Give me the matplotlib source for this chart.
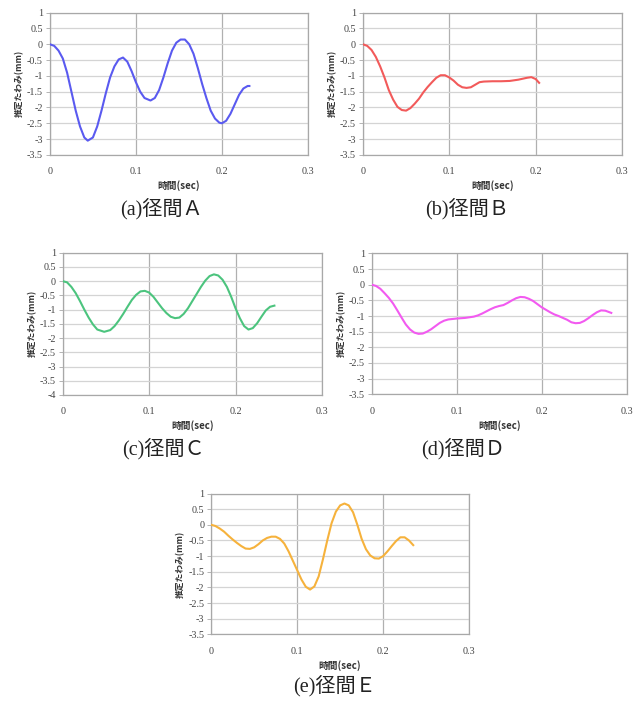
"""
径間A〜Eの推定たわみ時刻歴 (5枚組)
"""
import matplotlib
matplotlib.use("Agg")
import matplotlib.pyplot as plt

plt.rcParams['font.family'] = ['Liberation Serif', 'Noto Sans CJK JP']

# --- 径間A ---
t_a = [0, 0.005, 0.01, 0.015, 0.02, 0.025, 0.03, 0.035, 0.04, 0.044, 0.05, 0.055, 0.06,
       0.065, 0.07, 0.075, 0.08, 0.085, 0.09, 0.095, 0.1, 0.105, 0.11, 0.117, 0.122, 0.127,
       0.132, 0.137, 0.142, 0.147, 0.152, 0.157, 0.162, 0.167, 0.172, 0.177, 0.182, 0.187,
       0.192, 0.197, 0.2, 0.205, 0.21, 0.215, 0.22, 0.225, 0.23, 0.232]
d_a = [0, -0.05, -0.2, -0.45, -0.9, -1.5, -2.1, -2.6, -2.95, -3.05, -2.95, -2.6, -2.1,
       -1.55, -1.05, -0.7, -0.48, -0.42, -0.55, -0.85, -1.2, -1.5, -1.7, -1.78, -1.7, -1.45,
       -1.05, -0.6, -0.2, 0.05, 0.15, 0.15, 0.0, -0.3, -0.75, -1.25, -1.7, -2.1,
       -2.35, -2.48, -2.5, -2.42, -2.2, -1.9, -1.6, -1.4, -1.32, -1.32]

# --- 径間B ---
t_b = [0, 0.005, 0.01, 0.015, 0.02, 0.025, 0.03, 0.035, 0.04, 0.045, 0.05, 0.055, 0.06,
       0.065, 0.07, 0.075, 0.08, 0.085, 0.09, 0.095, 0.1, 0.105, 0.11, 0.115, 0.12, 0.125,
       0.13, 0.135, 0.14, 0.15, 0.16, 0.17, 0.18, 0.19, 0.195, 0.2, 0.204]
d_b = [0, -0.05, -0.18, -0.4, -0.7, -1.05, -1.45, -1.75, -1.98, -2.08, -2.1, -2.02, -1.88,
       -1.72, -1.52, -1.35, -1.2, -1.06, -0.98, -0.98, -1.05, -1.15, -1.28, -1.36, -1.38, -1.36,
       -1.28, -1.2, -1.18, -1.17, -1.17, -1.16, -1.12, -1.06, -1.04, -1.1, -1.22]

# --- 径間C ---
t_c = [0, 0.005, 0.01, 0.015, 0.02, 0.025, 0.03, 0.035, 0.04, 0.048, 0.055, 0.06, 0.065,
       0.07, 0.075, 0.08, 0.085, 0.09, 0.095, 0.1, 0.105, 0.11, 0.115, 0.12, 0.125, 0.13,
       0.135, 0.14, 0.145, 0.15, 0.155, 0.16, 0.165, 0.17, 0.175, 0.18, 0.185, 0.19, 0.195,
       0.2, 0.205, 0.21, 0.215, 0.22, 0.225, 0.23, 0.235, 0.24, 0.245]
d_c = [0, -0.04, -0.2, -0.42, -0.7, -1.0, -1.28, -1.52, -1.7, -1.78, -1.72, -1.58, -1.38,
       -1.15, -0.9, -0.66, -0.48, -0.36, -0.34, -0.4, -0.55, -0.75, -0.95, -1.12, -1.25, -1.3,
       -1.28, -1.15, -0.95, -0.7, -0.45, -0.2, 0.02, 0.18, 0.24, 0.2, 0.05, -0.2, -0.55,
       -0.95, -1.3, -1.58, -1.7, -1.65, -1.48, -1.25, -1.03, -0.9, -0.86]

# --- 径間D ---
t_d = [0, 0.005, 0.01, 0.015, 0.02, 0.025, 0.03, 0.035, 0.04, 0.045, 0.05, 0.055, 0.06,
       0.065, 0.07, 0.075, 0.08, 0.085, 0.09, 0.1, 0.11, 0.12, 0.125, 0.13, 0.135, 0.14,
       0.145, 0.15, 0.155, 0.16, 0.165, 0.17, 0.175, 0.18, 0.185, 0.19, 0.195, 0.2, 0.205,
       0.21, 0.215, 0.22, 0.225, 0.23, 0.235, 0.24, 0.245, 0.25, 0.255, 0.26, 0.265, 0.27,
       0.275, 0.28, 0.282]
d_d = [0, -0.04, -0.13, -0.27, -0.42, -0.6, -0.82, -1.05, -1.27, -1.43, -1.53, -1.57, -1.56,
       -1.5, -1.42, -1.32, -1.22, -1.15, -1.11, -1.08, -1.06, -1.02, -0.98, -0.92, -0.85, -0.78,
       -0.72, -0.68, -0.65, -0.58, -0.5, -0.43, -0.39, -0.4, -0.45, -0.52, -0.62, -0.72, -0.8,
       -0.88, -0.95, -1.0, -1.06, -1.12, -1.2, -1.23, -1.22, -1.16, -1.07, -0.97, -0.88, -0.82,
       -0.83, -0.88, -0.9]

# --- 径間E ---
t_e = [0, 0.005, 0.01, 0.015, 0.02, 0.025, 0.03, 0.035, 0.04, 0.045, 0.05, 0.055, 0.06,
       0.065, 0.07, 0.075, 0.08, 0.085, 0.09, 0.095, 0.1, 0.105, 0.11, 0.115, 0.12, 0.125,
       0.13, 0.135, 0.14, 0.145, 0.15, 0.155, 0.16, 0.165, 0.17, 0.175, 0.18, 0.185, 0.19,
       0.195, 0.2, 0.205, 0.21, 0.215, 0.22, 0.225, 0.23, 0.235]
d_e = [0, -0.04, -0.12, -0.22, -0.35, -0.47, -0.58, -0.68, -0.76, -0.77, -0.72, -0.62, -0.5,
       -0.42, -0.38, -0.38, -0.45, -0.6, -0.85, -1.15, -1.45, -1.75, -1.98, -2.07, -1.97, -1.65,
       -1.1, -0.5, 0.05, 0.42, 0.62, 0.68, 0.62, 0.4, 0.0, -0.45, -0.78, -0.98, -1.07,
       -1.08, -1.0, -0.85, -0.68, -0.52, -0.4, -0.4, -0.5, -0.65]

captions = ["(a)径間Ａ", "(b)径間Ｂ", "(c)径間Ｃ", "(d)径間Ｄ", "(e)径間Ｅ"]
colors = ["#5a5af0", "#f25a5a", "#4cc47e", "#f25af0", "#f6b23c"]
y_bottoms = [-3.5, -3.5, -4, -3.5, -3.5]

fig = plt.figure(figsize=(6.4, 7.04), dpi=100)

# [left, bottom, width, height] と キャプション位置 (図座標)
boxes = [
    [0.078, 0.780, 0.403, 0.202],
    [0.567, 0.780, 0.405, 0.202],
    [0.098, 0.439, 0.405, 0.202],
    [0.581, 0.440, 0.398, 0.200],
    [0.330, 0.099, 0.403, 0.200],
]
cap_pos = [(0.252, 0.695), (0.730, 0.695), (0.255, 0.354), (0.723, 0.354), (0.522, 0.018)]

series = [(t_a, d_a), (t_b, d_b), (t_c, d_c), (t_d, d_d), (t_e, d_e)]

for i, (t, d) in enumerate(series):
    ax = fig.add_axes(boxes[i])
    ax.plot(t, d, color=colors[i], lw=1.5, zorder=3)
    ax.set_xlim(0, 0.3)
    ax.set_ylim(y_bottoms[i], 1)
    yt = [1 - 0.5 * k for k in range(int((1 - y_bottoms[i]) / 0.5) + 1)]
    ax.set_yticks(yt)
    ax.set_yticklabels([f"{v:g}" for v in yt])
    ax.set_xticks([0, 0.1, 0.2, 0.3])
    ax.set_xticklabels(["0", "0.1", "0.2", "0.3"])
    ax.grid(axis="y", color="#d4d4d4", lw=0.9)
    ax.grid(axis="x", color="#b0b0b0", lw=0.9)
    ax.set_axisbelow(True)
    for s in ax.spines.values():
        s.set_color("#a8a8a8")
        s.set_linewidth(0.9)
    ax.tick_params(axis="y", length=3, width=0.6, color="#a8a8a8", labelsize=7.3,
                   labelcolor="#444444", pad=2)
    ax.tick_params(axis="x", length=0, labelsize=7.3, labelcolor="#444444", pad=9)
    ax.set_ylabel("推定たわみ(mm)", fontsize=6.3, color="#333333", labelpad=2,
                  family=['Noto Sans CJK JP', 'Liberation Serif'], fontweight="bold")
    ax.set_xlabel("時間(sec)", fontsize=7, color="#333333", labelpad=3,
                  family=['Noto Sans CJK JP', 'Liberation Serif'], fontweight="bold")
    fig.text(cap_pos[i][0], cap_pos[i][1], captions[i], fontsize=14.5, ha="center",
             color="#222222", family=['Liberation Serif', 'Noto Sans CJK JP'])

fig.savefig("out.png", dpi=100)
